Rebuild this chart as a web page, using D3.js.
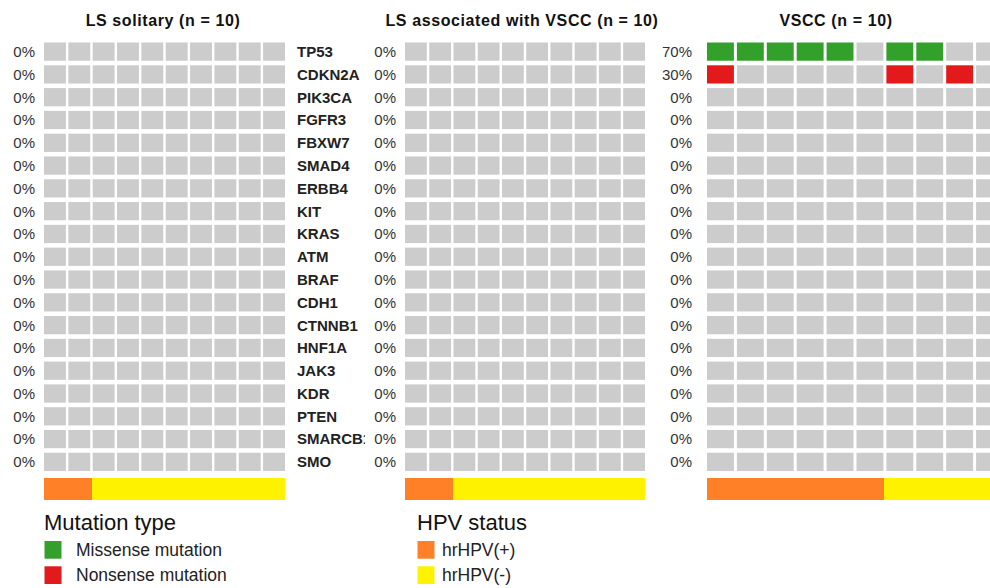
<!DOCTYPE html>
<html>
<head>
<meta charset="utf-8">
<script src="https://cdn.jsdelivr.net/npm/d3@7"></script>
<style>
  body { margin: 0; background: #fff; }
  svg { font-family: "Liberation Sans", Arial, sans-serif; display: block; }
</style>
</head>
<body>
<script>
// genes in plot order
var genes = ["TP53", "CDKN2A", "PIK3CA", "FGFR3", "FBXW7", "SMAD4", "ERBB4", "KIT", "KRAS",
             "ATM", "BRAF", "CDH1", "CTNNB1", "HNF1A", "JAK3", "KDR", "PTEN", "SMARCB1", "SMO"];

var groupTitles = ["LS solitary (n = 10)", "LS associated with VSCC (n = 10)", "VSCC (n = 10)"];

// per-sample mutation calls (1 = mutated), only genes with hits listed
var lsSolitaryMissense = {};
var lsSolitaryNonsense = {};
var lsVsccMissense = {};
var lsVsccNonsense = {};
var vsccMissense = { "TP53": [1, 1, 1, 1, 1, 0, 1, 1, 0, 0] };
var vsccNonsense = { "CDKN2A": [1, 0, 0, 0, 0, 0, 1, 0, 1, 0] };

// HPV status per sample (1 = hrHPV(+))
var lsSolitaryHpv = [1, 1, 0, 0, 0, 0, 0, 0, 0, 0];
var lsVsccHpv = [1, 1, 0, 0, 0, 0, 0, 0, 0, 0];
var vsccHpv = [1, 1, 1, 1, 1, 1, 0, 0, 0, 0];

var mutationTypes = ["Missense mutation", "Nonsense mutation"];
var hpvTypes = ["hrHPV(+)", "hrHPV(-)"];

var width = 990;
var height = 588;

var colors = {
  none: "#cccccc",
  missense: "#33a02c",
  nonsense: "#e31a1c",
  hpvPos: "#ff8026",
  hpvNeg: "#fff200"
};

var panels = [
  { title: groupTitles[0], missense: lsSolitaryMissense, nonsense: lsSolitaryNonsense, hpv: lsSolitaryHpv,
    x0: 44, x1: 285, pctRight: 35, geneX: 297, titleX: 163 },
  { title: groupTitles[1], missense: lsVsccMissense, nonsense: lsVsccNonsense, hpv: lsVsccHpv,
    x0: 405, x1: 645, pctRight: 396, geneX: null, titleX: 522 },
  { title: groupTitles[2], missense: vsccMissense, nonsense: vsccNonsense, hpv: vsccHpv,
    x0: 707, x1: 1003, pctRight: 692, geneX: null, titleX: 836 }
];

var svg = d3.select("body").append("svg")
  .attr("width", width)
  .attr("height", height);

svg.append("defs").append("clipPath")
  .attr("id", "geneClip")
  .append("rect")
  .attr("x", 290).attr("y", 0).attr("width", 75).attr("height", height);

var y = d3.scaleBand()
  .domain(genes)
  .range([42.5, 471])
  .paddingInner(0.2);

panels.forEach(function(p) {
  var samples = d3.range(p.hpv.length);
  var x = d3.scaleBand().domain(samples).range([p.x0, p.x1]).paddingInner(0.1);
  var xBar = d3.scaleBand().domain(samples).range([p.x0 - 0.5, p.x1]).padding(0);

  var g = svg.append("g");

  // title
  g.append("text")
    .attr("x", p.titleX)
    .attr("y", 26)
    .attr("text-anchor", "middle")
    .attr("font-weight", "bold")
    .attr("font-size", 16)
    .attr("letter-spacing", 0.6)
    .attr("fill", "#111")
    .text(p.title);

  // cells
  var cells = [];
  genes.forEach(function(gene) {
    samples.forEach(function(s) {
      var type = "none";
      if (p.missense[gene] && p.missense[gene][s]) type = "missense";
      else if (p.nonsense[gene] && p.nonsense[gene][s]) type = "nonsense";
      cells.push({ gene: gene, sample: s, type: type });
    });
  });

  g.selectAll("rect.cell")
    .data(cells)
    .enter()
    .append("rect")
    .attr("class", "cell")
    .attr("x", function(d) { return x(d.sample); })
    .attr("y", function(d) { return y(d.gene); })
    .attr("width", x.bandwidth())
    .attr("height", y.bandwidth())
    .attr("fill", function(d) { return colors[d.type]; });

  // percent labels
  g.selectAll("text.pct")
    .data(genes)
    .enter()
    .append("text")
    .attr("class", "pct")
    .attr("x", p.pctRight)
    .attr("y", function(d) { return y(d) + y.bandwidth() / 2; })
    .attr("dy", "0.36em")
    .attr("text-anchor", "end")
    .attr("font-size", 15)
    .attr("fill", "#333")
    .text(function(gene) {
      var hits = samples.filter(function(s) {
        return (p.missense[gene] && p.missense[gene][s]) || (p.nonsense[gene] && p.nonsense[gene][s]);
      }).length;
      return Math.round(hits / samples.length * 100) + "%";
    });

  // gene names
  if (p.geneX !== null) {
    g.append("g")
      .attr("clip-path", "url(#geneClip)")
      .selectAll("text")
      .data(genes)
      .enter()
      .append("text")
      .attr("x", p.geneX)
      .attr("y", function(d) { return y(d) + y.bandwidth() / 2; })
      .attr("dy", "0.36em")
      .attr("font-weight", "bold")
      .attr("font-size", 15)
      .attr("fill", "#222")
      .text(function(d) { return d; });
  }

  // HPV annotation bar
  g.append("g")
    .attr("shape-rendering", "crispEdges")
    .selectAll("rect")
    .data(samples)
    .enter()
    .append("rect")
    .attr("x", function(s) { return xBar(s); })
    .attr("y", 477.5)
    .attr("width", function(s) { return s < samples.length - 1 ? xBar.bandwidth() + 1 : xBar.bandwidth(); })
    .attr("height", 22.5)
    .attr("fill", function(s) { return p.hpv[s] ? colors.hpvPos : colors.hpvNeg; });
});

// legends
function legend(x, textOffset, title, labels, fills) {
  var lg = svg.append("g").attr("transform", "translate(" + x + ",0)");
  lg.append("text")
    .attr("x", 0)
    .attr("y", 530)
    .attr("font-size", 22)
    .attr("fill", "#111")
    .text(title);
  var ly = d3.scaleBand().domain(labels).range([541, 584]).paddingInner(0.3);
  lg.selectAll("rect")
    .data(labels)
    .enter()
    .append("rect")
    .attr("x", 0.5)
    .attr("y", function(d) { return ly(d); })
    .attr("width", 17)
    .attr("height", ly.bandwidth())
    .attr("fill", function(d, i) { return fills[i]; });
  lg.selectAll("text.item")
    .data(labels)
    .enter()
    .append("text")
    .attr("class", "item")
    .attr("x", textOffset)
    .attr("y", function(d) { return ly(d) + 14.5; })
    .attr("font-size", 17.5)
    .attr("fill", "#222")
    .text(function(d) { return d; });
}

legend(44, 32, "Mutation type", mutationTypes, [colors.missense, colors.nonsense]);
legend(417, 25, "HPV status", hpvTypes, [colors.hpvPos, colors.hpvNeg]);
</script>
</body>
</html>
